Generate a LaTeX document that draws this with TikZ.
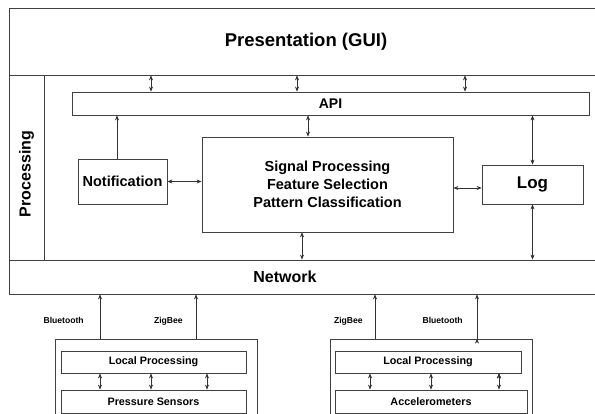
\documentclass[tikz,border=0pt]{standalone}
\usepackage{fontspec}
\setmainfont{Liberation Sans}
\usetikzlibrary{arrows.meta}

\tikzset{
  layer/.style={draw=black!75, line width=0.8pt, inner sep=0pt},
  block/.style={draw=black!75, line width=0.8pt, inner sep=0pt, align=center,
    font=\bfseries\fontsize{14.5}{18}\selectfont},
  unit/.style={draw=black!75, line width=0.8pt, inner sep=0pt,
    font=\bfseries\fontsize{10.8}{12}\selectfont},
  link/.style={draw=black!80, line width=0.6pt},
  twoway/.style={link, {Stealth[length=5pt,width=4pt]}-{Stealth[length=5pt,width=4pt]}},
  oneway/.style={link, -{Stealth[length=5pt,width=4pt]}},
  radio/.style={inner sep=0pt, font=\bfseries\fontsize{8.6}{10}\selectfont},
}

\begin{document}
\begin{tikzpicture}[x=1pt,y=-1pt]
  \useasboundingbox (0,0) rectangle (595,414);

  % the three layers
  \node[layer, minimum width=600pt, minimum height=67pt,
        label={[xshift=-3pt, font=\bfseries\fontsize{18.5}{22}\selectfont]center:Presentation (GUI)}] (gui) at (309,41.5) {};
  \node[layer, minimum width=600pt, minimum height=34pt,
        label={[xshift=-24pt, font=\bfseries\fontsize{16}{19}\selectfont]center:Network}] (net) at (309,277) {};
  \node[layer, rotate=90, minimum width=185pt, minimum height=35pt,
        font=\bfseries\fontsize{16}{19}\selectfont] (proc) at (26.5,167.5) {Processing\hspace*{13pt}};

  % processing layer
  \node[block, minimum width=517pt, minimum height=23pt, font=\bfseries\fontsize{14}{17}\selectfont] (api) at (330.5,103.5) {API};
  \node[block, minimum width=89pt, minimum height=45pt] (notif) at (122.5,181.5) {Notification};
  \node[block, minimum width=251pt, minimum height=95pt] (core) at (327.5,184.5)
    {Signal Processing\\Feature Selection\\Pattern Classification};
  \node[block, minimum width=101pt, minimum height=39pt, font=\bfseries\fontsize{17}{20}\selectfont] (log) at (532.5,184.5) {Log};

  % sensor nodes
  \node[layer, minimum width=202pt, minimum height=91pt] (grpA) at (156,384.5) {};
  \node[unit, minimum width=185pt, minimum height=22pt] (lpA) at (153.5,362) {Local Processing};
  \node[unit, minimum width=185pt, minimum height=23pt] (psA) at (153.5,401.5) {Pressure Sensors};

  \node[layer, minimum width=202pt, minimum height=91pt] (grpB) at (431,384.5) {};
  \node[unit, minimum width=186pt, minimum height=22pt] (lpB) at (428,362) {Local Processing};
  \node[unit, minimum width=192pt, minimum height=23pt] (acB) at (431,401.5) {Accelerometers};

  \path[twoway]
    (gui.south -| 151,0) edge (api.north -| 151,0)
    (gui.south -| 297,0) edge (api.north -| 297,0)
    (gui.south -| 465,0) edge (api.north -| 465,0)

    (api.south -| 308,0) edge (core.north -| 308,0)
    (api.south -| log.north) edge (log.north)

    (notif.east) edge (core.west |- notif.east)
    (core.east |- 0,188) edge (log.west |- 0,188)

    (core.south -| 302,0) edge (net.north -| 302,0)
    (log.south) edge (net.north -| log.south)

    (lpA.south -| 100,0) edge (psA.north -| 100,0)
    (lpA.south -| 151,0) edge (psA.north -| 151,0)
    (lpA.south -| 207,0) edge (psA.north -| 207,0)

    (lpB.south -| 370,0) edge (acB.north -| 370,0)
    (lpB.south -| 431,0) edge (acB.north -| 431,0)
    (lpB.south -| 499,0) edge (acB.north -| 499,0);

  \path[oneway]
    (notif.north -| 117,0) edge (api.south -| 117,0)

    (grpA.north -| 100,0) edge node[radio, pos=0.4, left=16pt] {Bluetooth} (net.south -| 100,0)
    (grpA.north -| 196,0) edge node[radio, pos=0.4, left=13pt] {ZigBee} (net.south -| 196,0)
    (grpB.north -| 375,0) edge node[radio, pos=0.4, left=12pt] {ZigBee} (net.south -| 375,0)
    (grpB.north -| 477,0) edge node[radio, pos=0.4, left=14pt] {Bluetooth} (net.south -| 477,0);
\end{tikzpicture}
\end{document}
